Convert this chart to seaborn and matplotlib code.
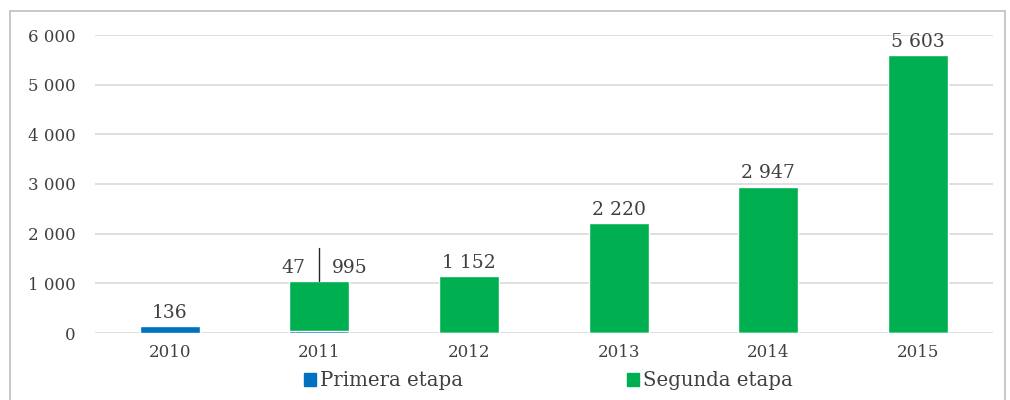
import seaborn as sns
import matplotlib.pyplot as plt
from matplotlib.patches import Rectangle, Patch
from matplotlib.ticker import FuncFormatter

years = ["2010", "2011", "2012", "2013", "2014", "2015"]
primera = [136, 47, 0, 0, 0, 0]
segunda = [0, 995, 1152, 2220, 2947, 5603]
total = [p + s for p, s in zip(primera, segunda)]

blue = "#0070C0"
green = "#00B050"
txt = "#404040"

sns.set_theme(style="white")
plt.rcParams["font.family"] = ["DejaVu Serif"]

fig = plt.figure(figsize=(10.1, 4.0), dpi=100)
ax = fig.add_axes([0.094, 0.1675, 0.889, 0.745])

# segunda stacked on primera: draw totals in green, then primera over it in blue
sns.barplot(x=years, y=total, color=green, width=0.4, saturation=1, ax=ax, zorder=3)
sns.barplot(x=years, y=primera, color=blue, width=0.4, saturation=1, ax=ax, zorder=4)

ax.set_ylim(0, 6000)
ax.set_xlim(-0.5, 5.5)
ax.set_yticks(range(0, 6001, 1000))
fmt = lambda v: f"{int(v):,}".replace(",", " ")
ax.yaxis.set_major_formatter(FuncFormatter(lambda v, p: fmt(v)))
ax.grid(axis="y", color="#D9D9D9", linewidth=1.2, zorder=0)
for s in ax.spines.values():
    s.set_visible(False)
ax.tick_params(axis="both", length=0, labelsize=12, labelcolor=txt, pad=8)
ax.tick_params(axis="y", pad=14)
ax.set_xlabel("")
ax.set_ylabel("")

# data labels
lab = dict(ha="center", va="bottom", fontsize=13.5, color=txt, textcoords="offset points")
ax.annotate(fmt(primera[0]), (0, total[0]), xytext=(0, 3), **lab)
ax.annotate(fmt(primera[1]), (1, total[1]), xytext=(-19, 3), **lab)
ax.annotate(fmt(segunda[1]), (1, total[1]), xytext=(22, 3), **lab)
ax.plot([1, 1], [total[1], total[1] + 660], color="#262626", lw=1, zorder=5)
for i in range(2, 6):
    ax.annotate(fmt(segunda[i]), (i, total[i]), xytext=(0, 3), **lab)

handles = [Patch(color=blue, label="Primera etapa"), Patch(color=green, label="Segunda etapa")]
fig.legend(handles=handles, loc="lower center", ncol=2, frameon=False,
           bbox_to_anchor=(0.543, -0.02), fontsize=14.2, handlelength=0.6,
           handleheight=0.6, handletextpad=0.2, columnspacing=8.3, labelcolor=txt)

fig.patches.append(Rectangle((0.0099, -0.01), 0.985, 0.983, transform=fig.transFigure,
                             fill=False, edgecolor="#BFBFBF", linewidth=1.2))

fig.savefig("out.png", dpi=100)
